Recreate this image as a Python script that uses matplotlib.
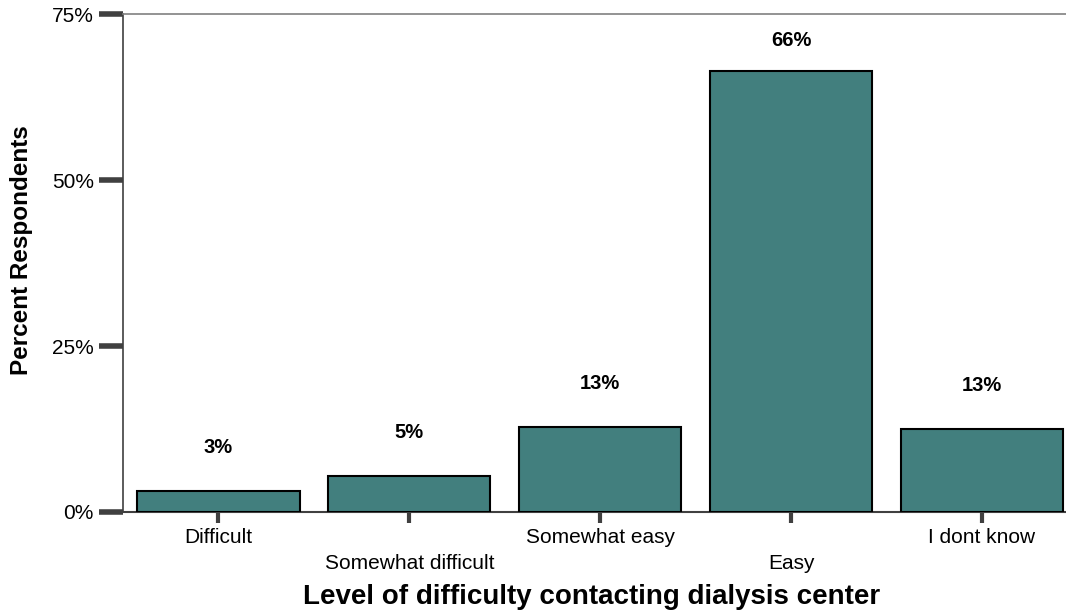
import numpy as np
import matplotlib.pyplot as plt

plt.rcParams['font.family'] = ['Liberation Sans', 'DejaVu Sans']

categories = ['Difficult', 'Somewhat difficult', 'Somewhat easy', 'Easy', 'I dont know']
values = np.array([3.2, 5.4, 12.8, 66.4, 12.5])
labels = ['3%', '5%', '13%', '66%', '13%']
yticks = [0, 25, 50, 75]

fig = plt.figure(figsize=(10.66, 6.15), dpi=100)
ax = fig.add_axes([0.1154, 0.1675, 0.8846, 0.8095])

x = np.arange(len(categories))
ax.bar(x, values, width=0.85, color='#427F7E', edgecolor='black', linewidth=1.5, zorder=3)

# value labels above bars, the tall one is pushed down under the top line
label_y = np.minimum(values + 6.5, 71)
for xi, ly, lab in zip(x, label_y, labels):
    ax.text(xi, ly, lab, ha='center', va='center', fontsize=14.5, fontweight='bold')

ax.set_xlim(-0.5, 4.44)
ax.set_ylim(0, 75)
ax.set_yticks(yticks)
ax.set_yticklabels([f'{t}%' for t in yticks], fontsize=15)
ax.set_xticks(x)
ax.set_xticklabels([])

# staggered category labels
for xi, cat in zip(x, categories):
    yy = -0.052 if xi % 2 == 0 else -0.104
    ax.text(xi, yy, cat, transform=ax.get_xaxis_transform(), ha='center', va='center',
            fontsize=15)

ax.tick_params(axis='y', length=17, width=4, color='#404040', pad=4)
ax.tick_params(axis='x', length=8, width=3, color='#404040')

ax.spines['right'].set_visible(False)
ax.spines['left'].set_color('#404040')
ax.spines['left'].set_linewidth(1.2)
ax.spines['bottom'].set_color('#404040')
ax.spines['bottom'].set_linewidth(1.5)
ax.spines['top'].set_color('#808080')
ax.spines['top'].set_linewidth(1.2)

ax.set_xlabel('Level of difficulty contacting dialysis center', fontsize=20,
              fontweight='bold')
ax.xaxis.set_label_coords(0.497, -0.145)
ax.set_ylabel('Percent Respondents', fontsize=17.5, fontweight='bold')
ax.yaxis.set_label_coords(-0.095, 0.525)

fig.savefig('out.png', dpi=100)
